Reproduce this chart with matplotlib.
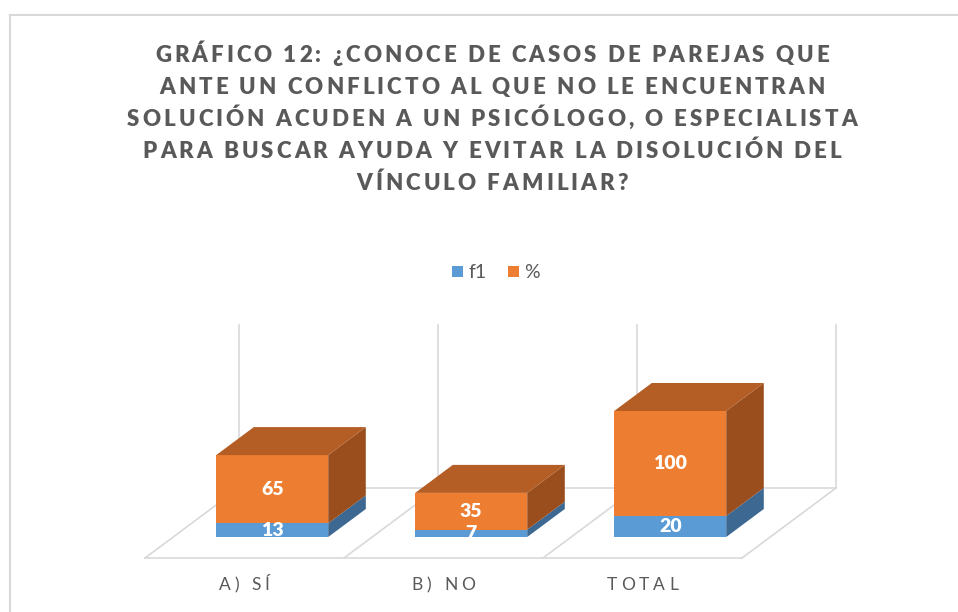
# -*- coding: utf-8 -*-
import matplotlib
matplotlib.use('Agg')
import matplotlib.pyplot as plt
from matplotlib.font_manager import FontProperties
from matplotlib.transforms import IdentityTransform
from matplotlib.lines import Line2D

# datos
categorias = ['A) SÍ', 'B) NO', 'TOTAL']
f1 = [13, 7, 20]
porcentaje = [65, 35, 100]
titulo = ['GRÁFICO 12: ¿CONOCE DE CASOS DE PAREJAS QUE',
          'ANTE UN CONFLICTO AL QUE NO LE ENCUENTRAN',
          'SOLUCIÓN ACUDEN A UN PSICÓLOGO, O ESPECIALISTA',
          'PARA BUSCAR AYUDA Y EVITAR LA DISOLUCIÓN DEL',
          'VÍNCULO FAMILIAR?']

GRIS = '#595959'
LINEA = '#D9D9D9'
AZUL, AZUL_LADO = '#5B9BD5', '#3C6892'
NAR, NAR_TOPE, NAR_LADO = '#ED7D31', '#B45D24', '#9A4E1D'

W, H = 958, 612
fig = plt.figure(figsize=(W / 100, H / 100), dpi=100)
ax = fig.add_axes([0, 0, 1, 1])
ax.axis('off')

# escala: 1 categoria = 199 px, 1 unidad = 1.05 px
ax.set_xlim(-145 / 199, (W - 145) / 199)
ax.set_ylim(-54 / 1.05, (H - 54) / 1.05)

DX = 94 / 199          # desplazamiento de profundidad (x)
DY = 70 / 1.05         # desplazamiento de profundidad (y)
d0, d1 = 0.3, 0.7      # profundidad de las barras
ancho = 112 / 199
hueco = 43 / 199
n = len(categorias)

# paredes y piso
for i in range(n + 1):
    ax.plot([i + DX, i + DX], [DY, DY + 155], color=LINEA, lw=1.2, zorder=1)
    ax.plot([i, i + DX], [0, DY], color=LINEA, lw=1.2, zorder=1)
ax.plot([0, n], [0, 0], color=LINEA, lw=1.2, zorder=1)
ax.plot([DX, n + DX], [DY, DY], color=LINEA, lw=1.2, zorder=1)

xs = [i + d0 * DX + hueco for i in range(n)]
base = d0 * DY
ddx, ddy = (d1 - d0) * DX, (d1 - d0) * DY

b1 = ax.bar(xs, f1, width=ancho, bottom=base, align='edge', color=AZUL,
            lw=0, zorder=3, label='f1')
b2 = ax.bar(xs, porcentaje, width=ancho, bottom=[base + v for v in f1],
            align='edge', color=NAR, lw=0, zorder=3, label='%')

p_num = FontProperties(family='Lato', size=14, weight='heavy')
for x, a, b in zip(xs, f1, porcentaje):
    xr = x + ancho
    y1 = base + a
    y2 = y1 + b
    # caras laterales
    ax.fill([xr, xr, xr + ddx, xr + ddx], [base, y1, y1 + ddy, base + ddy],
            color=AZUL_LADO, lw=0, zorder=3)
    ax.fill([xr, xr, xr + ddx, xr + ddx], [y1, y2, y2 + ddy, y1 + ddy],
            color=NAR_LADO, lw=0, zorder=3)
    # tapa
    ax.fill([x, xr, xr + ddx, x + ddx], [y2, y2, y2 + ddy, y2 + ddy],
            color=NAR_TOPE, lw=0, zorder=3)
    ax.text(x + ancho / 2, base + a / 2, str(a), color='white', ha='center',
            va='center', fontproperties=p_num, zorder=4)
    ax.text(x + ancho / 2, y1 + b / 2, str(b), color='white', ha='center',
            va='center', fontproperties=p_num, zorder=4)

leg = ax.legend(handles=[b1, b2], loc='center', ncol=2, frameon=False,
                bbox_to_anchor=(496 / W, 1 - 273 / H), bbox_transform=fig.transFigure,
                prop=FontProperties(family='Lato', size=14),
                handlelength=0.55, handleheight=0.55, handletextpad=0.3,
                columnspacing=1.1)
for t in leg.get_texts():
    t.set_color(GRIS)

renderer = fig.canvas.get_renderer()


def ancho_txt(c, prop):
    w1 = renderer.get_text_width_height_descent('x' + c + 'x', prop, ismath=False)[0]
    w0 = renderer.get_text_width_height_descent('xx', prop, ismath=False)[0]
    return w1 - w0


def texto_espaciado(xc, y, s, prop, tracking, color):
    # texto con espaciado entre letras, centrado en xc (pixeles)
    anchos = [ancho_txt(c, prop) for c in s]
    total = sum(anchos) + tracking * (len(s) - 1)
    x0 = xc - total / 2
    for c, w in zip(s, anchos):
        fig.text(x0, y, c, fontproperties=prop, color=color,
                 transform=IdentityTransform(), ha='left', va='baseline')
        x0 += w + tracking


p_tit = FontProperties(family='Lato', size=16, weight='heavy')
for k, linea in enumerate(titulo):
    texto_espaciado(492, H - (62 + 32 * k), linea, p_tit, 3.0, GRIS)

p_cat = FontProperties(family='Lato', size=12.5)
for i, c in enumerate(categorias):
    xc = 145 + 199 * (i + 0.5)
    texto_espaciado(xc, H - 590, c, p_cat, 4.0, GRIS)

# borde del grafico
fig.add_artist(Line2D([9.5, 9.5], [0, H - 15], color=LINEA, lw=1.5,
                      transform=IdentityTransform()))
fig.add_artist(Line2D([9.5, W], [H - 15, H - 15], color=LINEA, lw=1.5,
                      transform=IdentityTransform()))

fig.savefig('out.png', dpi=100)
